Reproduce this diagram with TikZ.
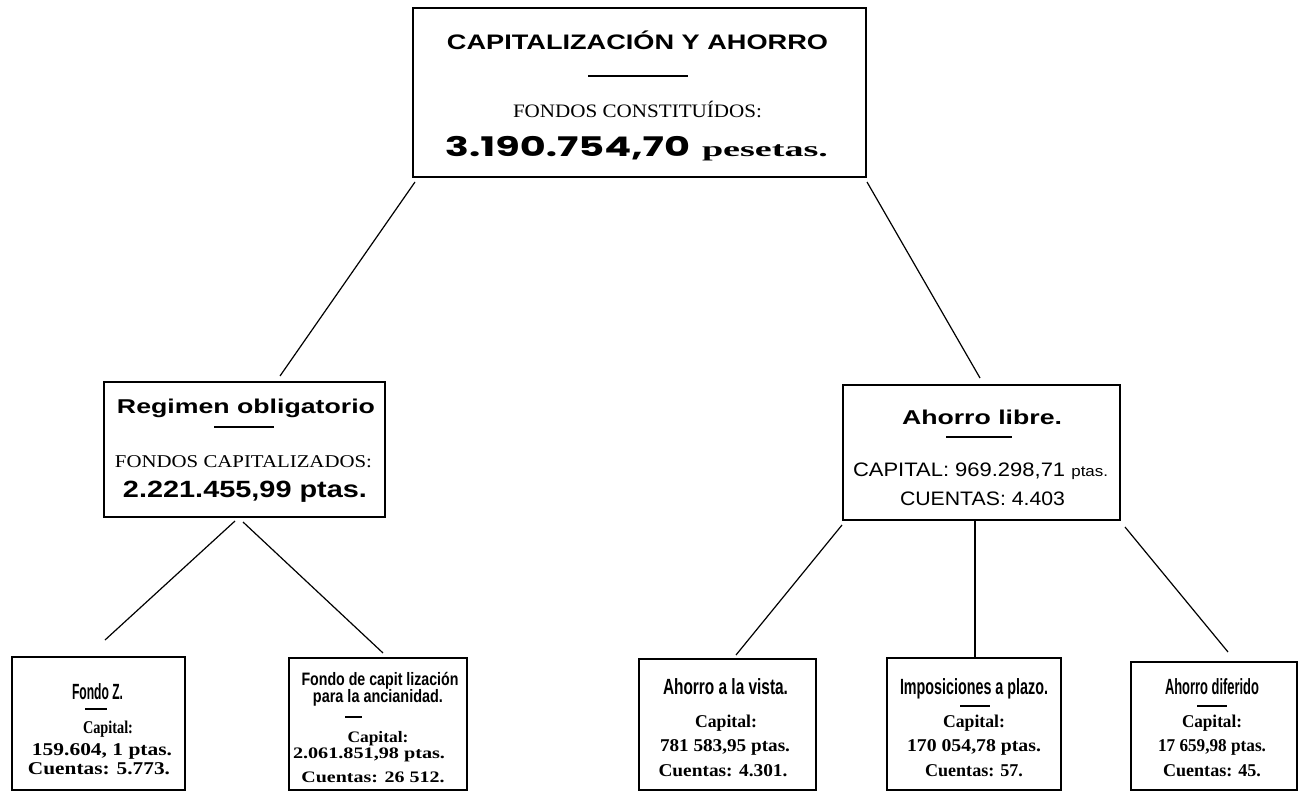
\documentclass[tikz,border=0pt]{standalone}
\usepackage{fontspec}
\setmainfont{Liberation Serif}
\newfontfamily\sansf{Liberation Sans}
\newfontfamily\popf{Poppins}
\usetikzlibrary{calc}
\newcommand\fitx[2]{\resizebox{#1}{\height}{#2}}
\newcommand\fs[1]{\fontsize{#1}{#1}\selectfont}
\tikzset{
  box/.style={draw, line width=2pt, inner sep=0pt, outer sep=0pt},
  conn/.style={line width=1.2pt},
  txt/.style={anchor=base, inner sep=0pt, outer sep=0pt},
  rulel/.style={line width=1.4pt},
  ttl/.style={txt, font=\sansf\bfseries\fs{20}},
  sub/.style={txt, font=\sansf\bfseries\fs{22}},
  subs/.style={txt, font=\sansf\bfseries\fs{18}},
  body/.style={txt, font=\rmfamily\bfseries\fs{18}},
  bodys/.style={txt, font=\rmfamily\bfseries\fs{16}}
}
\begin{document}
\begin{tikzpicture}[x=1pt,y=-1pt]
\useasboundingbox (0,0) rectangle (1298,794);
% boxes
\node[box, minimum width=453pt, minimum height=169pt] (top) at (639.5,92.5) {};
\node[box, minimum width=281pt, minimum height=135pt] (reg) at (244.5,449.5) {};
\node[box, minimum width=277pt, minimum height=135pt] (lib) at (981.5,452.5) {};
\node[box, minimum width=173pt, minimum height=133pt] (fz) at (98.5,723.5) {};
\node[box, minimum width=178pt, minimum height=132pt] (fc) at (378,724) {};
\node[box, minimum width=177pt, minimum height=131pt] (av) at (727.5,724.5) {};
\node[box, minimum width=174pt, minimum height=132pt] (ip) at (974,724) {};
\node[box, minimum width=166pt, minimum height=128pt] (ad) at (1214,726) {};
% connectors
\draw[conn] ($(top.south west)+(2,5)$) -- ($(reg.north)+(35.5,-6)$);
\draw[conn] ($(top.south east)+(1,5)$) -- ($(lib.north)+(-1.5,-7)$);
\draw[conn] ($(reg.south)+(-9.5,4)$) -- ($(fz.north)+(6.5,-17)$);
\draw[conn] ($(reg.south)+(-1.5,5)$) -- ($(fc.north)+(5,-5)$);
\draw[conn] ($(lib.south west)+(-1,5)$) -- ($(av.north)+(8.5,-4)$);
\draw[conn] ($(lib.south)+(-6.5,0)$) -- ($(ip.north)+(1,0)$);
\draw[conn] ($(lib.south east)+(5,7)$) -- ($(ad.north)+(14,-10)$);
% top box text
\node[txt, font=\sansf\bfseries\fs{21}] (t0) at (637.5,50) {\fitx{381pt}{CAPITALIZACIÓN Y AHORRO}};
\draw[rulel] (588,76) -- (688,76);
\node[txt, font=\rmfamily\fs{19}] (t1) at (637.5,118) {\fitx{249pt}{FONDOS CONSTITUÍDOS:}};
\node[txt, font=\popf\bfseries\fs{27}] (t2) at (567.5,157) {\fitx{245pt}{3.190.754,70}};
\node[txt, font=\rmfamily\bfseries\fs{21}] (t3) at (765,157) {\fitx{126pt}{pesetas.}};
% regimen
\node[ttl] (r0) at (246,413) {\fitx{258pt}{Regimen obligatorio}};
\draw[rulel] (214,427) -- (274,427);
\node[txt, font=\rmfamily\fs{18}] (r1) at (243.5,467) {\fitx{257pt}{FONDOS CAPITALIZADOS:}};
\node[txt, font=\sansf\bfseries\fs{23.5}] (r2) at (245,497) {\fitx{244pt}{2.221.455,99 ptas.}};
% ahorro libre
\node[ttl] (l0) at (982,424) {\fitx{160pt}{Ahorro libre.}};
\draw[rulel] (946,437) -- (1012,437);
\node[txt, font=\sansf\fs{19.5}] (l1) at (980.5,476) {\fitx{255pt}{CAPITAL: 969.298,71 {\fs{15}ptas.}}};
\node[txt, font=\sansf\fs{19.5}] (l2) at (982.5,505) {\fitx{165pt}{CUENTAS: 4.403}};
% fondo Z
\node[sub] (z0) at (97.5,699) {\fitx{51pt}{Fondo Z.}};
\draw[rulel] (85,709) -- (107,709);
\node[body] (z1) at (108,733) {\fitx{50pt}{Capital:}};
\node[body] (z2) at (102,755) {\fitx{140pt}{159.604, 1 ptas.}};
\node[body] (z3) at (99,774) {\fitx{142pt}{Cuentas: 5.773.}};
% fondo de capitalizacion
\node[subs] (c0) at (380,685) {\fitx{157pt}{Fondo de capit lización}};
\node[subs] (c1) at (378,702) {\fitx{130pt}{para la ancianidad.}};
\draw[rulel] (345,717) -- (362,717);
\node[bodys] (c2) at (378,742) {\fitx{61pt}{Capital:}};
\node[bodys] (c3) at (369,758) {\fitx{152pt}{2.061.851,98 ptas.}};
\node[bodys] (c4) at (373,782) {\fitx{143pt}{Cuentas: 26 512.}};
% ahorro a la vista
\node[sub] (a0) at (725.5,694) {\fitx{125pt}{Ahorro a la vista.}};
\node[body] (a1) at (726,727) {\fitx{62pt}{Capital:}};
\node[body] (a2) at (725,751) {\fitx{130pt}{781 583,95 ptas.}};
\node[body] (a3) at (723,776) {\fitx{129pt}{Cuentas: 4.301.}};
% imposiciones
\node[sub] (i0) at (974,694) {\fitx{148pt}{Imposiciones a plazo.}};
\draw[rulel] (960,706) -- (990,706);
\node[body] (i1) at (974,727) {\fitx{62pt}{Capital:}};
\node[body] (i2) at (974,751) {\fitx{134pt}{170 054,78 ptas.}};
\node[body] (i3) at (974,776) {\fitx{98pt}{Cuentas: 57.}};
% ahorro diferido
\node[sub] (d0) at (1212,694) {\fitx{94pt}{Ahorro diferido}};
\draw[rulel] (1197,706) -- (1227,706);
\node[body] (d1) at (1212,727) {\fitx{60pt}{Capital:}};
\node[body] (d2) at (1212,751) {\fitx{108pt}{17 659,98 ptas.}};
\node[body] (d3) at (1212,776) {\fitx{98pt}{Cuentas: 45.}};
\end{tikzpicture}
\end{document}
